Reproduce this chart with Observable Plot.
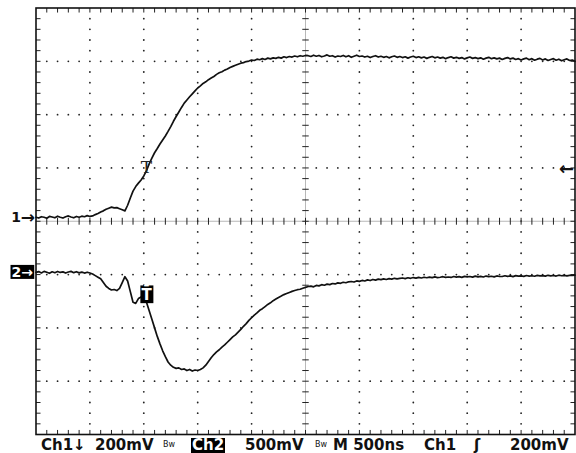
<!DOCTYPE html>
<html><head><meta charset="utf-8">
<script src="https://cdn.jsdelivr.net/npm/d3@7"></script>
<script src="https://cdn.jsdelivr.net/npm/@observablehq/plot@0.6"></script>
<style>
body{margin:0;background:#fff;}
#wrap{position:relative;width:576px;height:453px;overflow:hidden;font-family:"DejaVu Sans",sans-serif;background:#fff;}
#status{position:absolute;left:0;top:438px;width:576px;height:15px;font-weight:bold;font-size:15px;line-height:15px;color:#111;}
#status span{position:absolute;top:0;white-space:nowrap;}
#status span.inv{background:#000;color:#fff;height:15px;line-height:15px;padding:0 1px;}
#status span.bw{font-size:8px;font-weight:normal;top:3px;line-height:8px;}
</style></head><body><div id="wrap"><div id="chart"></div><div id="status"></div></div>
<script>
// sample times (ns), 25 ns spacing, 500 ns/div
const timeNs = [0,25,50,75,100,125,150,175,200,225,250,275,300,325,350,375,400,425,450,475,500,525,550,575,600,625,650,675,700,725,750,775,800,825,850,875,900,925,950,975,1000,1025,1050,1075,1100,1125,1150,1175,1200,1225,1250,1275,1300,1325,1350,1375,1400,1425,1450,1475,1500,1525,1550,1575,1600,1625,1650,1675,1700,1725,1750,1775,1800,1825,1850,1875,1900,1925,1950,1975,2000,2025,2050,2075,2100,2125,2150,2175,2200,2225,2250,2275,2300,2325,2350,2375,2400,2425,2450,2475,2500,2525,2550,2575,2600,2625,2650,2675,2700,2725,2750,2775,2800,2825,2850,2875,2900,2925,2950,2975,3000,3025,3050,3075,3100,3125,3150,3175,3200,3225,3250,3275,3300,3325,3350,3375,3400,3425,3450,3475,3500,3525,3550,3575,3600,3625,3650,3675,3700,3725,3750,3775,3800,3825,3850,3875,3900,3925,3950,3975,4000,4025,4050,4075,4100,4125,4150,4175,4200,4225,4250,4275,4300,4325,4350,4375,4400,4425,4450,4475,4500,4525,4550,4575,4600,4625,4650,4675,4700,4725,4750,4775,4800,4825,4850,4875,4900,4925,4950,4975,5000];
// Ch1 (mV)
const ch1mV = [0,-3,2,0,-4,3,1,-2,4,0,-3,2,5,1,-2,3,0,4,2,6,3,5,
10,14,20,24,30,34,38,35,36,32,28,24,45,72,98,115,128,140,155,175,200,222,242,258,275,290,305,322,340,360,378,395,412,428,440,452,463,474,485,493,502,508,516,522,528,536,542,546,552,556,562,566,570,574,578,580,584,586,590,
588,593,591,595,592,597,594,598,596,600,597,602,599,603,601,605,602,606,604,607,
606,603,608,604,607,602,605,609,604,606,
601,605,603,607,602,606,600,604,608,603,
605,601,604,599,603,606,601,604,600,603,
598,602,605,600,603,599,602,597,601,604,
599,602,598,601,596,600,603,598,601,597,
600,595,599,602,597,600,596,599,594,598,
601,596,599,595,598,593,597,600,595,598,
594,597,592,596,599,594,597,592,595,590,
594,597,591,595,589,593,596,590,594,588,
592,595,589,593,587,591,594,588,590,585];
// Ch2 (mV)
const ch2mV = [0,8,-5,10,2,-8,6,-3,9,0,5,-6,4,10,-2,7,-4,3,-6,2,
-5,-15,-30,-45,-60,-95,-130,-150,-165,-160,
-170,-150,-95,-40,-80,-180,-280,-290,-245,-230,
-255,-280,-360,-440,-520,-600,-670,-735,-790,-840,
-870,-890,-900,-895,-910,-905,-920,-910,-925,-915,
-920,-910,-895,-870,-835,-800,-770,-745,-725,-700,
-680,-655,-630,-605,-585,-560,-535,-505,-480,-450,
-425,-400,-380,-355,-340,-320,-300,-285,-265,-250,
-235,-222,-208,-198,-188,-178,-170,-162,-158,-148,
-140,
-132,-128,-135,-122,-126,-115,-120,-110,-114,-104,
-108,-98,-102,-92,-97,-88,-85,-90,-80,-84,
-75,-80,-70,-76,-66,-72,-63,-68,-60,-66,
-58,-63,-55,-60,-56,-52,-58,-50,-55,-48,
-54,-47,-52,-45,-50,-44,-49,-42,-48,-45,
-40,-47,-43,-47,-38,-44,-40,-46,-37,-42,
-38,-44,-35,-41,-37,-43,-34,-40,-36,-42,
-33,-38,-38,-31,-37,-33,-39,-30,-35,-32,
-37,-29,-34,-31,-36,-28,-33,-30,-35,-27,
-32,-29,-34,-26,-31,-28,-33,-27,-28,-25];

const ch1mVPerDiv = 200, ch2mVPerDiv = 500, nsPerDiv = 500;
const ch1Position = 0.075, ch2Position = -0.96;   // divisions
const triggerTimeNs = 1025, triggerLevelmV = 180, ch2MarkmV = -215;
const statusLabels = ["Ch1\u2193","200mV","Bw","Ch2","500mV","Bw","M 500ns","Ch1","\u0283","200mV"];

const toDiv1 = v => v / ch1mVPerDiv + ch1Position;
const toDiv2 = v => v / ch2mVPerDiv + ch2Position;
const ch1 = timeNs.map((t, i) => ({t, y: toDiv1(ch1mV[i])}));
const ch2 = timeNs.map((t, i) => ({t, y: toDiv2(ch2mV[i])}));

// graticule structure
const xMinor = d3.range(100, 5000, 100);
const yMinorAll = d3.range(-3.8, 3.81, 0.2).map(v => +v.toFixed(2));
const xMajor = [500,1000,1500,2000,3000,3500,4000,4500];
const yMajor = [-3,-2,-1,1,2,3];
const gridDots = [];
for (const x of xMajor) for (const y of yMinorAll) gridDots.push({x, y});
for (const y of yMajor) for (const x of xMinor) if (x % 500) gridDots.push({x, y});
const tx = 42, ty = 0.085; // tick lengths
const ticks = [];
for (const x of xMinor) {
  ticks.push({x1:x,x2:x,y1:4,y2:4-ty});
  ticks.push({x1:x,x2:x,y1:-4,y2:-4+ty});
  ticks.push({x1:x,x2:x,y1:-0.065,y2:0.065});
}
for (const y of yMinorAll) {
  ticks.push({x1:0,x2:tx,y1:y,y2:y});
  ticks.push({x1:5000,x2:5000-tx,y1:y,y2:y});
  ticks.push({x1:2500-30,x2:2500+30,y1:y,y2:y});
}

const plot = Plot.plot({
  width: 576, height: 437,
  marginTop: 7.5, marginLeft: 35.5, marginRight: 1.5, marginBottom: 3,
  x: {domain: [0, 10 * nsPerDiv], axis: null},
  y: {domain: [-4, 4], axis: null},
  marks: [
    Plot.dot(gridDots, {x:"x", y:"y", r:0.9, fill:"#222", stroke:null}),
    Plot.ruleY([0], {stroke:"#999", strokeWidth:0.7}),
    Plot.ruleX([2500], {stroke:"#999", strokeWidth:0.7}),
    Plot.link(ticks, {x1:"x1", x2:"x2", y1:"y1", y2:"y2", stroke:"#222", strokeWidth:1}),
    Plot.frame({stroke:"#111", strokeWidth:1.6}),
    Plot.line(ch1, {x:"t", y:"y", stroke:"#111", strokeWidth:1.7}),
    Plot.line(ch2, {x:"t", y:"y", stroke:"#111", strokeWidth:1.7}),
    Plot.text(["1"], {x:0, y:ch1Position, dx:-15, textAnchor:"end", fontSize:14, fontWeight:"bold", fill:"#111", fontFamily:"DejaVu Sans"}),
    Plot.text(["\u2192"], {x:0, y:ch1Position, dx:-1, textAnchor:"end", fontSize:17, fontWeight:"bold", fill:"#111", fontFamily:"DejaVu Sans"}),
    Plot.text(["2\u2192"], {x:0, y:ch2Position, dx:-3, textAnchor:"end", fontSize:14, fontWeight:"bold", fill:"#fff", fontFamily:"DejaVu Sans", ariaDescription:"boxed"}),
    Plot.text(["T"], {x:triggerTimeNs, y:toDiv1(triggerLevelmV), dy:-2, fontSize:17, fill:"#222", fontFamily:"DejaVu Serif"}),
    Plot.text(["T\u0304"], {x:triggerTimeNs, y:toDiv2(ch2MarkmV), fontSize:15, fontWeight:"bold", fill:"#fff", fontFamily:"DejaVu Sans", ariaDescription:"boxed"}),
    Plot.text(["\u2190"], {x:5000, y:toDiv1(triggerLevelmV), dx:-1, textAnchor:"end", fontSize:18, fontWeight:"bold", fill:"#111", fontFamily:"DejaVu Sans"})
  ]
});
document.getElementById("chart").appendChild(plot);
const boxed = [];
plot.querySelectorAll('[aria-description="boxed"]').forEach(el => {
  if (el.tagName.toLowerCase() === "text") boxed.push(el);
  else el.querySelectorAll("text").forEach(t => boxed.push(t));
});
boxed.forEach(t => {
  const b = t.getBBox();
  const r = document.createElementNS("http://www.w3.org/2000/svg", "rect");
  r.setAttribute("x", b.x - 1); r.setAttribute("y", b.y + 1);
  r.setAttribute("width", b.width + 2); r.setAttribute("height", b.height - 2);
  r.setAttribute("fill", "#000");
  if (t.getAttribute("transform")) r.setAttribute("transform", t.getAttribute("transform"));
  t.parentNode.insertBefore(r, t);
});

const lefts = [41, 95, 163, 191, 245, 315, 333, 424, 474, 510];
const status = document.getElementById("status");
statusLabels.forEach((s, i) => {
  const sp = document.createElement("span");
  sp.textContent = s;
  sp.style.left = lefts[i] + "px";
  if (i === 3) sp.className = "inv";
  if (s === "Bw") sp.className = "bw";
  status.appendChild(sp);
});
</script></body></html>
